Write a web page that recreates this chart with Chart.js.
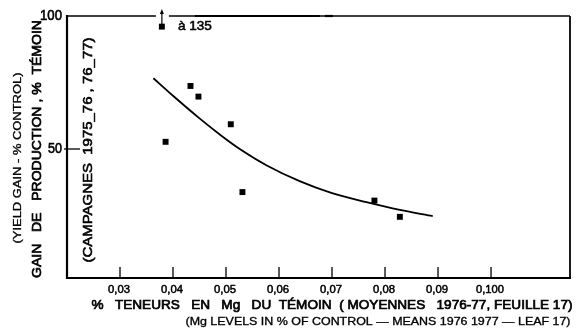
<!DOCTYPE html>
<html>
<head>
<meta charset="utf-8">
<script src="https://cdn.jsdelivr.net/npm/chart.js@4"></script>
<style>
html,body{margin:0;padding:0;background:#fff;}
#c{display:block;}
</style>
</head>
<body>
<canvas id="c" width="579" height="329"></canvas>
<script>
// ---- data ----
const xTickValues = [0.03, 0.04, 0.05, 0.06, 0.07, 0.08, 0.09, 0.10];
const xTickLabels = ['0,03', '0,04', '0,05', '0,06', '0,07', '0,08', '0,09', '0,100'];
const yTickValues = [50, 100];
const yTickLabels = ['50', '100'];
const pointsX = [0.0379, 0.0386, 0.0433, 0.0448, 0.0509, 0.0531, 0.0780, 0.0828];
const pointsY = [96, 52.7, 73.7, 69.7, 59.3, 33.8, 30.6, 24.5];
const curveX = [0.0363, 0.040, 0.045, 0.049, 0.0526, 0.0577, 0.064, 0.070, 0.0765, 0.0828, 0.089];
const curveY = [76.6, 70.0, 61.5, 55.2, 50.0, 43.8, 37.8, 33.4, 30.0, 27.1, 24.8];
const offScaleLabel = 'à 135';
const xTitle1 = '%   TENEURS   EN   Mg   DU  TÉMOIN  ( MOYENNES   1976-77, FEUILLE 17)';
const xTitle2 = '(Mg LEVELS IN % OF CONTROL — MEANS 1976 1977 — LEAF 17)';
const yTitle1 = 'GAIN   DE   PRODUCTION , %  TÉMOIN';
const yTitle2 = '(YIELD GAIN - % CONTROL)';
const innerTitle = '(CAMPAGNES  1975_76 , 76_77)';

const FONT = '"Liberation Sans", Arial, sans-serif';

function fitText(ctx, text, cx, cy, width, size, rot, weight, stroke) {
  ctx.save();
  ctx.translate(cx, cy);
  if (rot) ctx.rotate(rot);
  ctx.font = (weight || 'normal') + ' ' + size + 'px ' + FONT;
  const w = ctx.measureText(text).width;
  ctx.scale(width / w, 1);
  ctx.textAlign = 'center';
  ctx.textBaseline = 'middle';
  ctx.fillStyle = '#000';
  ctx.fillText(text, 0, 0);
  if (stroke) {
    ctx.strokeStyle = '#000';
    ctx.lineWidth = stroke;
    ctx.strokeText(text, 0, 0);
  }
  ctx.restore();
}

const framePlugin = {
  id: 'frame',
  afterDatasetsDraw(chart) {
    const ctx = chart.ctx;
    const xs = chart.scales.x, ys = chart.scales.y;
    const a = chart.chartArea;
    ctx.save();
    ctx.strokeStyle = '#000';
    ctx.lineCap = 'butt';
    // left axis
    ctx.lineWidth = 2.2;
    ctx.beginPath(); ctx.moveTo(a.left, a.top - 1); ctx.lineTo(a.left, a.bottom + 1); ctx.stroke();
    // bottom axis
    ctx.beginPath(); ctx.moveTo(a.left - 1, a.bottom); ctx.lineTo(a.right + 1, a.bottom); ctx.stroke();
    // right border
    ctx.lineWidth = 1.8;
    ctx.beginPath(); ctx.moveTo(a.right, a.top); ctx.lineTo(a.right, a.bottom); ctx.stroke();
    // top border with gap for the off-scale arrow
    const px = xs.getPixelForValue(pointsX[0]);
    ctx.lineWidth = 1.5;
    ctx.beginPath(); ctx.moveTo(a.left, a.top); ctx.lineTo(px - 6, a.top); ctx.stroke();
    ctx.beginPath(); ctx.moveTo(px + 7, a.top); ctx.lineTo(a.right, a.top); ctx.stroke();
    ctx.lineWidth = 2.2;
    ctx.beginPath(); ctx.moveTo(px + 33, a.top); ctx.lineTo(px + 158, a.top); ctx.stroke();
    ctx.beginPath(); ctx.moveTo(px + 163, a.top); ctx.lineTo(px + 171, a.top); ctx.stroke();
    // arrow from off-scale point
    const py = ys.getPixelForValue(pointsY[0]);
    ctx.lineWidth = 1.2;
    ctx.beginPath(); ctx.moveTo(px, py); ctx.lineTo(px, a.top - 5); ctx.stroke();
    ctx.fillStyle = '#000';
    ctx.beginPath(); ctx.moveTo(px, a.top - 7); ctx.lineTo(px - 2, a.top - 2); ctx.lineTo(px + 2, a.top - 2); ctx.closePath(); ctx.fill();
    // x ticks (inward)
    ctx.lineWidth = 1.3;
    xTickValues.forEach((v, i) => {
      const x = xs.getPixelForValue(v);
      ctx.beginPath(); ctx.moveTo(x, a.bottom); ctx.lineTo(x, a.bottom - 11); ctx.stroke();
      fitText(ctx, xTickLabels[i], x - 1, a.bottom + 12, xTickLabels[i].length === 5 ? 28 : 22, 11, 0, 'normal', 0.5);
    });
    // y ticks
    yTickValues.forEach((v, i) => {
      const y = ys.getPixelForValue(v);
      if (v !== 100) {
        ctx.lineWidth = 1.3;
        ctx.beginPath(); ctx.moveTo(a.left - 3, y); ctx.lineTo(a.left + 13, y); ctx.stroke();
      }
      const lw = yTickLabels[i].length === 3 ? 22 : 14;
      fitText(ctx, yTickLabels[i], a.left - 5 - lw / 2, y, lw, 14, 0, 'normal', 0.6);
    });
    // labels
    fitText(ctx, offScaleLabel, px + 33, py, 34, 12, 0, 'normal', 0.5);
    fitText(ctx, xTitle1, 332, 305, 481, 13, 0, 'normal', 0.7);
    fitText(ctx, xTitle2, 378, 322, 385, 10, 0, 'normal', 0.3);
    fitText(ctx, yTitle1, 37, 149, 258, 13, -Math.PI / 2, 'normal', 0.7);
    fitText(ctx, yTitle2, 18, 158, 171, 10, -Math.PI / 2, 'normal', 0.3);
    fitText(ctx, innerTitle, 88, 150, 225, 13, -Math.PI / 2, 'normal', 0.6);
    ctx.restore();
  }
};

new Chart(document.getElementById('c'), {
  type: 'scatter',
  data: {
    datasets: [
      {
        label: 'points',
        data: pointsX.map((x, i) => ({ x: x, y: pointsY[i] })),
        pointStyle: 'rect',
        pointRadius: 4.2,
        backgroundColor: '#000',
        borderColor: '#000',
        borderWidth: 0,
        showLine: false
      },
      {
        label: 'curve',
        data: curveX.map((x, i) => ({ x: x, y: curveY[i] })),
        showLine: true,
        pointRadius: 0,
        borderColor: '#000',
        borderWidth: 1.8,
        cubicInterpolationMode: 'monotone',
        fill: false
      }
    ]
  },
  options: {
    responsive: false,
    animation: false,
    devicePixelRatio: 1,
    layout: { padding: { left: 67, right: 9, top: 16, bottom: 51 } },
    plugins: { legend: { display: false }, tooltip: { enabled: false } },
    scales: {
      x: { type: 'linear', min: 0.020, max: 0.1149, display: false },
      y: { type: 'linear', min: 1.5, max: 100, display: false }
    }
  },
  plugins: [framePlugin]
});
</script>
</body>
</html>
